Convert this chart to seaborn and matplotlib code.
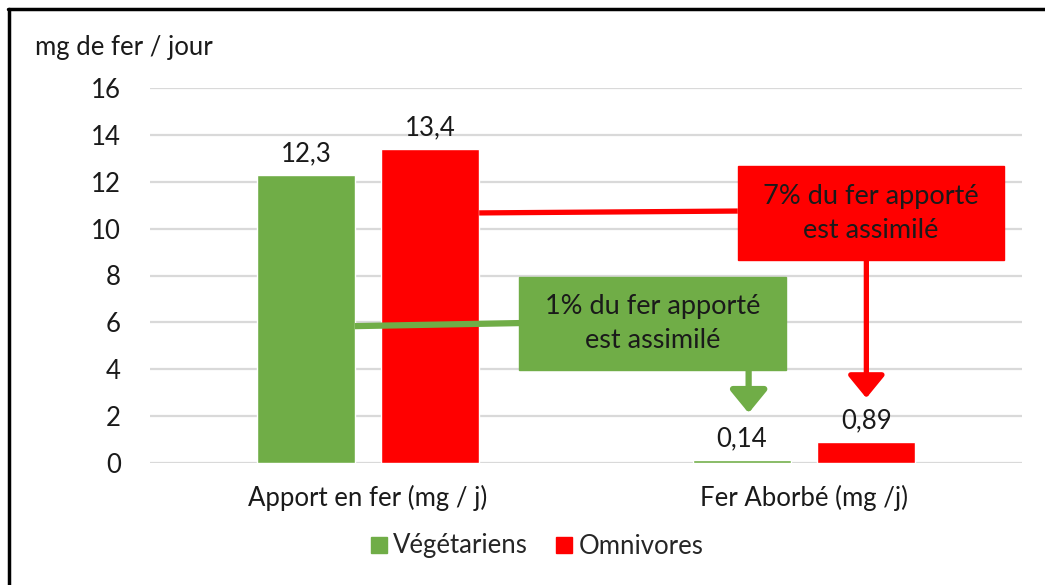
import pandas as pd
import matplotlib.pyplot as plt
import seaborn as sns
from matplotlib.lines import Line2D
from matplotlib.patches import Rectangle

# data
categories = ["Apport en fer (mg / j)", "Fer Aborbé (mg /j)"]
groups = ["Végétariens", "Omnivores"]
vegetariens = [12.3, 0.14]
omnivores = [13.4, 0.89]
y_ticks = [0, 2, 4, 6, 8, 10, 12, 14, 16]

GREEN = "#70AD47"
RED = "#FF0000"
TXT = "#1A1A1A"
FS = 18.5

df = pd.DataFrame({
    "Categorie": categories * 2,
    "Groupe": [groups[0]] * 2 + [groups[1]] * 2,
    "Valeur": vegetariens + omnivores,
})

sns.set_theme(style="white")
plt.rcParams["font.family"] = ["Lato", "DejaVu Sans"]

fig = plt.figure(figsize=(10.45, 5.85), dpi=100)
ax = fig.add_axes([150 / 1045, 1 - 463 / 585, (1022 - 150) / 1045, (463 - 88) / 585])

sns.barplot(data=df, x="Categorie", y="Valeur", hue="Groupe",
            palette=[GREEN, RED], width=0.57, gap=0.21,
            saturation=1, legend=False, ax=ax, zorder=3)

# value labels with comma decimals
for cont in ax.containers:
    ax.bar_label(cont, labels=[str(v.get_height()).replace(".", ",") for v in cont],
                 padding=6, fontsize=FS, color=TXT)

ax.set_ylim(0, 16)
ax.set_xlim(-0.5, 1.5)
ax.set_yticks(y_ticks)
ax.yaxis.grid(True, color="#D9D9D9", lw=1.6, zorder=0)
ax.set_axisbelow(True)
for s in ax.spines.values():
    s.set_visible(False)
ax.tick_params(axis="y", length=0, pad=21, labelsize=FS, labelcolor=TXT)
ax.tick_params(axis="x", length=0, pad=16, labelsize=FS, labelcolor=TXT)
ax.set_xlabel("")
ax.set_ylabel("")

# connector lines
ax.plot([0.255, 0.848], [10.67, 10.75], color=RED, lw=3.8, zorder=4, solid_capstyle="butt")
ax.plot([-0.03, 0.347], [5.84, 5.97], color=GREEN, lw=4.5, zorder=4, solid_capstyle="butt")

# annotation boxes
ax.add_patch(Rectangle((0.848, 8.66), 1.459 - 0.848, 12.67 - 8.66, color=RED, zorder=5))
ax.text((0.848 + 1.459) / 2, (8.66 + 12.67) / 2, "7% du fer apporté\nest assimilé",
        ha="center", va="center", fontsize=19.5, linespacing=1.45, color=TXT, zorder=6)
ax.add_patch(Rectangle((0.347, 3.97), 0.958 - 0.347, 7.93 - 3.97, color=GREEN, zorder=5))
ax.text((0.347 + 0.958) / 2, (3.97 + 7.93) / 2, "1% du fer apporté\nest assimilé",
        ha="center", va="center", fontsize=19.5, linespacing=1.45, color=TXT, zorder=6)

# arrows
ax.annotate("", xy=(1.143, 2.77), xytext=(1.143, 8.66),
            arrowprops=dict(arrowstyle="-|>,head_length=0.55,head_width=0.45",
                            mutation_scale=25, color=RED, lw=3.8, shrinkA=0, shrinkB=0),
            zorder=5)
ax.annotate("", xy=(0.873, 2.13), xytext=(0.873, 3.97),
            arrowprops=dict(arrowstyle="-|>,head_length=0.55,head_width=0.45",
                            mutation_scale=25, color=GREEN, lw=4.5, shrinkA=0, shrinkB=0),
            zorder=5)

# axis title
fig.text(35 / 1045, 1 - 48 / 585, "mg de fer / jour", ha="left", va="center",
         fontsize=FS, color=TXT)

# legend
handles = [Line2D([], [], marker="s", ls="", color=GREEN, markersize=12),
           Line2D([], [], marker="s", ls="", color=RED, markersize=12)]
fig.legend(handles, groups, loc="center", bbox_to_anchor=(0.513, 1 - 546 / 585),
           ncol=2, frameon=False, fontsize=FS, handletextpad=0.15, columnspacing=1.0,
           handlelength=0.8)

# outer frame (top & left visible)
fig.add_artist(Line2D([8 / 1045, 1], [1 - 9 / 585, 1 - 9 / 585], color="black", lw=2.5,
                      transform=fig.transFigure))
fig.add_artist(Line2D([9 / 1045, 9 / 1045], [0, 1 - 9 / 585], color="black", lw=2.5,
                      transform=fig.transFigure))

fig.savefig("out.png", dpi=100)
